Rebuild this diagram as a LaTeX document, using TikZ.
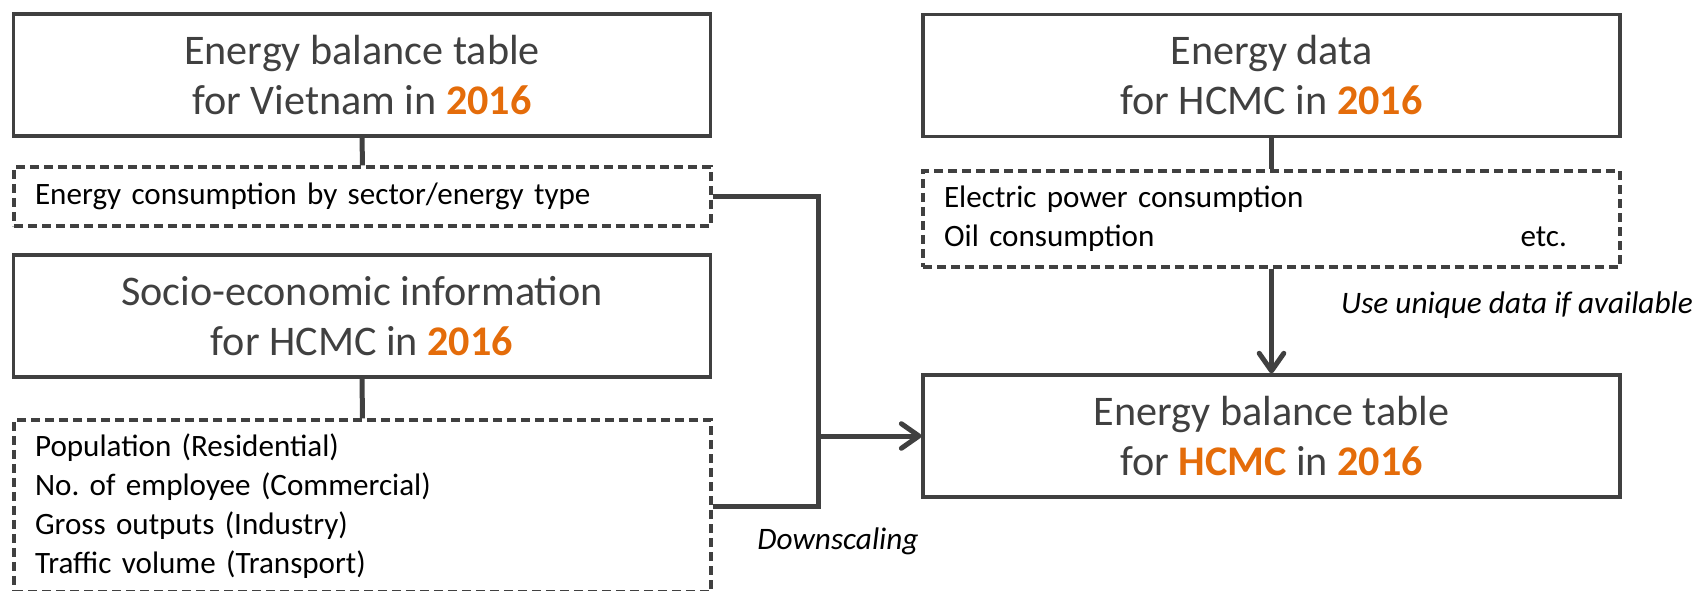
\documentclass[tikz,border=0pt]{standalone}
\usepackage{fontspec}
\setmainfont{Carlito}
\usepackage{xcolor}
\usepackage{tikz}
\usetikzlibrary{arrows.meta}

\definecolor{boxgray}{HTML}{404040}
\definecolor{yearorange}{HTML}{E46C0A}
\newcommand{\yr}[1]{\textbf{\color{yearorange}#1}}
\frenchspacing

\tikzset{
  titlebox/.style={draw=boxgray, line width=0.065cm, minimum width=13.94cm, minimum height=2.44cm,
    inner sep=0pt, align=center, text=boxgray, font=\fontsize{24}{28.45}\selectfont},
  listbox/.style={draw=boxgray, line width=0.065cm, dash pattern=on 0.18cm off 0.1cm,
    minimum width=13.94cm, inner xsep=0.42cm, inner ysep=0pt, text width=13.1cm, align=left,
    font=\fontsize{17.7}{22.2}\selectfont},
  link/.style={draw=boxgray, line width=0.1cm},
  flow/.style={link, -{Straight Barb[length=10pt,width=14pt,round]}},
  note/.style={font=\fontsize{17.8}{22.2}\selectfont\itshape}
}

\begin{document}
\begin{tikzpicture}[x=0.02cm,y=-0.02cm]
            \clip (0,0) rectangle (1698,591);

            \node[titlebox] (vnbox) at (362,75) {Energy balance table\\for Vietnam in \yr{2016}};
            \node[listbox, minimum height=1.18cm] (vnlist) at (362.5,196.5) {Energy consumption by sector/energy type};
            \node[titlebox] (sebox) at (362,316) {Socio-economic information\\for HCMC in \yr{2016}};
            \node[listbox, minimum height=3.44cm] (selist) at (362.5,506) {Population (Residential)\\No. of employee (Commercial)\\Gross outputs (Industry)\\Traffic volume (Transport)};

            \node[titlebox] (hcbox) at (1271.5,75.5) {Energy data\\for HCMC in \yr{2016}};
            \node[listbox, minimum height=1.92cm] (hclist) at (1271.5,219) {Electric power consumption\\Oil consumption\hfill etc.\kern0.64cm\null};
            \node[titlebox] (ebtbox) at (1271.5,436) {Energy balance table\\for \yr{HCMC} in \yr{2016}};

            \coordinate (join) at (818,436);

            \draw[link] (vnbox.south) -- (vnlist.north);
            \draw[link] (sebox.south) -- (selist.north);
            \draw[link] (hcbox.south) -- (hclist.north);
            \draw[flow] (hclist.south) -- (ebtbox.north);
            \draw[link] (vnlist.east) -| (join) |- (selist.east);
            \draw[flow] (join) -- (ebtbox.west);

            \node[note, anchor=west] (usenote) at (1335,305) {Use unique data if available};
            \node[note] (dsnote) at (838,541) {Downscaling};
        \end{tikzpicture}
\end{document}
